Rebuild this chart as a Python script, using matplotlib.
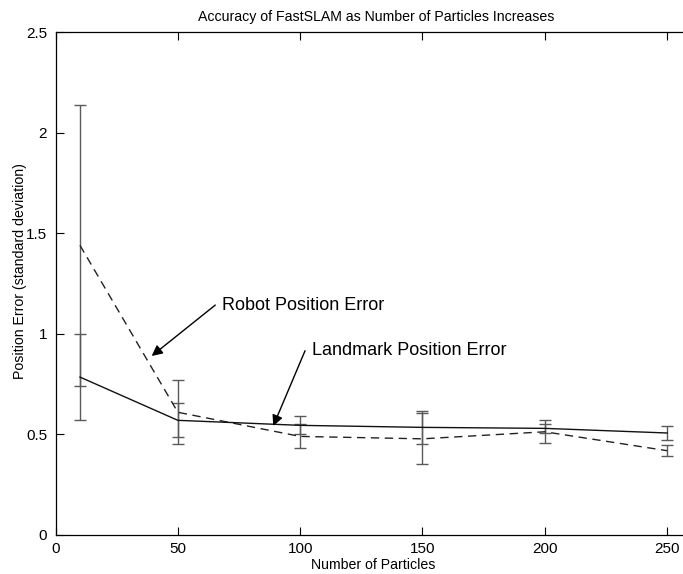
import matplotlib
matplotlib.use("Agg")
import matplotlib.pyplot as plt

# data
particles = [10, 50, 100, 150, 200, 250]
robot_err = [1.44, 0.61, 0.49, 0.478, 0.513, 0.419]
robot_std = [0.70, 0.16, 0.06, 0.127, 0.058, 0.027]
landmark_err = [0.785, 0.57, 0.545, 0.535, 0.53, 0.507]
landmark_std = [0.215, 0.085, 0.045, 0.083, 0.024, 0.035]

xticks = [0, 50, 100, 150, 200, 250]
yticks = [0, 0.5, 1, 1.5, 2, 2.5]
yticklabels = ["0", "0.5", "1", "1.5", "2", "2.5"]

plt.rcParams['font.family'] = ['Liberation Sans', 'DejaVu Sans']

fig = plt.figure(figsize=(6.83, 5.74), dpi=100)
ax = fig.add_axes([0.0813, 0.068, 1 - 0.0813, 0.876])

ebc = "#5a5a5a"
# error bars first, lines on top
ax.errorbar(particles, robot_err, yerr=robot_std, fmt="none", ecolor=ebc,
            elinewidth=1.0, capsize=4.5, capthick=1.0)
ax.errorbar(particles, landmark_err, yerr=landmark_std, fmt="none", ecolor=ebc,
            elinewidth=1.0, capsize=4.5, capthick=1.0)
ax.plot(particles, robot_err, color="#222222", lw=1.0, ls=(0, (6, 4)))
ax.plot(particles, landmark_err, color="#111111", lw=1.0)

ax.set_xlim(0, 256.5)
ax.set_ylim(0, 2.5)
ax.set_xticks(xticks)
ax.set_yticks(yticks)
ax.set_yticklabels(yticklabels)
ax.tick_params(direction="in", length=6, width=0.8, top=True, right=False,
               labelsize=11)
ax.tick_params(axis="x", pad=5)
ax.tick_params(axis="y", pad=6)
ax.spines["right"].set_visible(False)
for s in ["left", "bottom", "top"]:
    ax.spines[s].set_linewidth(0.9)

ax.set_title("Accuracy of FastSLAM as Number of Particles Increases",
             fontsize=10.2, pad=8, x=0.511)
ax.set_xlabel("Number of Particles", fontsize=10.2)
ax.xaxis.set_label_coords(0.506, -0.045)
ax.set_ylabel("Position Error (standard deviation)", fontsize=10.2)
ax.yaxis.set_label_coords(-0.045, 0.525)

arr = dict(arrowstyle="-|>", color="black", lw=1.0, mutation_scale=16,
           shrinkA=0, shrinkB=0)
ax.annotate("", xy=(39.3, 0.89), xytext=(65.3, 1.143), arrowprops=arr)
ax.text(68, 1.143, "Robot Position Error", fontsize=13, va="center", ha="left")
ax.annotate("", xy=(89.0, 0.542), xytext=(102, 0.916), arrowprops=arr)
ax.text(104.7, 0.916, "Landmark Position Error", fontsize=13, va="center",
        ha="left")

fig.savefig("out.png", dpi=100)
